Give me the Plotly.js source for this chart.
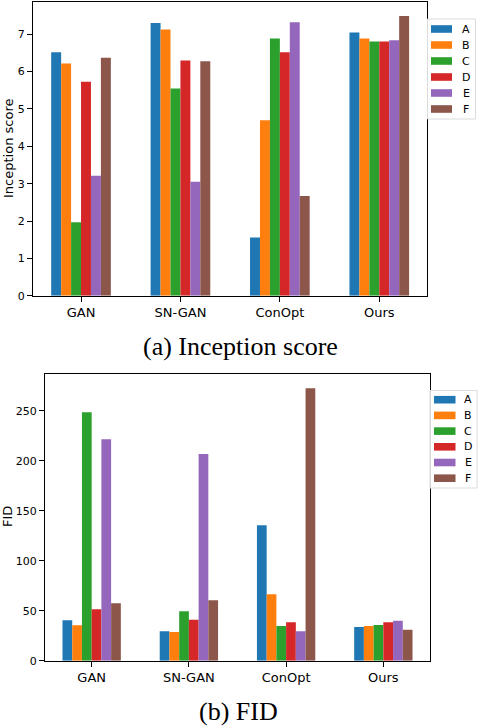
<!DOCTYPE html>
<html>
<head>
<meta charset="utf-8">
<script src="https://cdn.plot.ly/plotly-3.0.1.min.js"></script>
<style>
  html, body { margin: 0; padding: 0; background: #fff; }
  #chart { width: 478px; height: 726px; }
</style>
</head>
<body>
<div id="chart"></div>
<script>
var methods = ["GAN", "SN-GAN", "ConOpt", "Ours"];
var seriesNames = ["A", "B", "C", "D", "E", "F"];
var colors = ["#1f77b4", "#ff7f0e", "#2ca02c", "#d62728", "#9467bd", "#8c564b"];

// inception score, one array per series (GAN, SN-GAN, ConOpt, Ours)
var isA = [6.52, 7.30, 1.56, 7.05];
var isB = [6.22, 7.13, 4.70, 6.89];
var isC = [1.97, 5.55, 6.89, 6.81];
var isD = [5.73, 6.30, 6.52, 6.81];
var isE = [3.21, 3.05, 7.32, 6.84];
var isF = [6.37, 6.28, 2.67, 7.49];

// FID
var fidA = [40.4, 29.4, 135.5, 33.7];
var fidB = [35.4, 28.7, 66.4, 34.7];
var fidC = [248.6, 49.4, 34.7, 35.7];
var fidD = [51.4, 41.0, 38.4, 38.4];
var fidE = [221.6, 206.9, 29.4, 40.0];
var fidF = [57.4, 60.4, 272.7, 31.0];

var isSeries = [isA, isB, isC, isD, isE, isF];
var fidSeries = [fidA, fidB, fidC, fidD, fidE, fidF];

var W = 478, H = 726;
var font = "DejaVu Sans, sans-serif";
var serif = "Liberation Serif, Times New Roman, serif";
var data = [];

seriesNames.forEach(function(name, i){
  data.push({
    x: methods, y: isSeries[i], name: name, type: "bar",
    xaxis: "x", yaxis: "y", showlegend: false,
    marker: {color: colors[i], line: {width: 0}},
    hoverinfo: "skip"
  });
});
seriesNames.forEach(function(name, i){
  data.push({
    x: methods, y: fidSeries[i], name: name, type: "bar",
    xaxis: "x2", yaxis: "y2", showlegend: false,
    marker: {color: colors[i], line: {width: 0}},
    hoverinfo: "skip"
  });
});

var axisStyle = {
  showline: true, mirror: true, linecolor: "#000", linewidth: 1,
  ticks: "outside", ticklen: 5, tickcolor: "#000",
  showgrid: false, zeroline: false
};
function ax(extra){
  return Object.assign({}, axisStyle, extra);
}
var xTickFont = {family: font, size: 13, color: "#000"};
var yTickFont = {family: font, size: 11, color: "#000"};

// px helpers (from top-left of the page)
function px(x){ return x / W; }
function py(y){ return 1 - y / H; }

var shapes = [];
var annotations = [
  {text: "Inception score", xref: "paper", yref: "paper", x: px(8), y: py(149),
   xanchor: "center", yanchor: "middle",
   textangle: -90, showarrow: false, font: {family: font, size: 13, color: "#000"}},
  {text: "FID", xref: "paper", yref: "paper", x: px(7), y: py(517),
   xanchor: "center", yanchor: "middle",
   textangle: -90, showarrow: false, font: {family: font, size: 13, color: "#000"}},
  {text: "(a) Inception score", xref: "paper", yref: "paper", x: px(241), y: py(346),
   xanchor: "center", yanchor: "middle",
   showarrow: false, font: {family: serif, size: 26, color: "#000"}},
  {text: "(b) FID", xref: "paper", yref: "paper", x: px(238), y: py(711),
   xanchor: "center", yanchor: "middle",
   showarrow: false, font: {family: serif, size: 26, color: "#000"}}
];

// matplotlib style legend box drawn by hand
function addLegend(box, sw, textX, firstY, step, fsize){
  shapes.push({type: "rect", xref: "paper", yref: "paper",
    x0: px(box[0]), x1: px(box[2]), y0: py(box[1]), y1: py(box[3]),
    line: {color: "#dcdcdc", width: 1}, fillcolor: "rgba(255,255,255,0.8)", layer: "above"});
  seriesNames.forEach(function(name, i){
    var cy = firstY + i * step;
    shapes.push({type: "rect", xref: "paper", yref: "paper",
      x0: px(sw[0]), x1: px(sw[1]), y0: py(cy - 3.8), y1: py(cy + 3.8),
      line: {width: 0}, fillcolor: colors[i], layer: "above"});
    annotations.push({text: name, xref: "paper", yref: "paper", x: px(textX), y: py(cy),
      xanchor: "center", yanchor: "middle", showarrow: false,
      font: {family: font, size: fsize, color: "#000"}});
  });
}
addLegend([427.5, 19, 475.5, 119], [431, 452], 466, 29, 16, 11);
addLegend([430, 390.5, 477, 488], [434, 455.5], 468, 399.7, 15.7, 11);

var layout = {
  width: W, height: H,
  margin: {l: 0, r: 0, t: 0, b: 0},
  paper_bgcolor: "#fff", plot_bgcolor: "#fff",
  barmode: "group", bargap: 0.4, bargroupgap: 0,
  font: {family: font, size: 13, color: "#000"},
  xaxis: ax({domain: [px(33), px(427)], anchor: "y", range: [-0.483, 3.48], type: "category", tickfont: xTickFont}),
  yaxis: ax({domain: [py(295.7), py(2)], anchor: "x", range: [0, 7.865], dtick: 1, tickfont: yTickFont}),
  xaxis2: ax({domain: [px(45), px(430)], anchor: "y2", range: [-0.48, 3.48], type: "category", tickfont: xTickFont}),
  yaxis2: ax({domain: [py(660.7), py(374)], anchor: "x2", range: [0, 287], dtick: 50, tickfont: yTickFont}),
  shapes: shapes,
  annotations: annotations
};

Plotly.newPlot("chart", data, layout, {displayModeBar: false, staticPlot: true});
</script>
</body>
</html>
